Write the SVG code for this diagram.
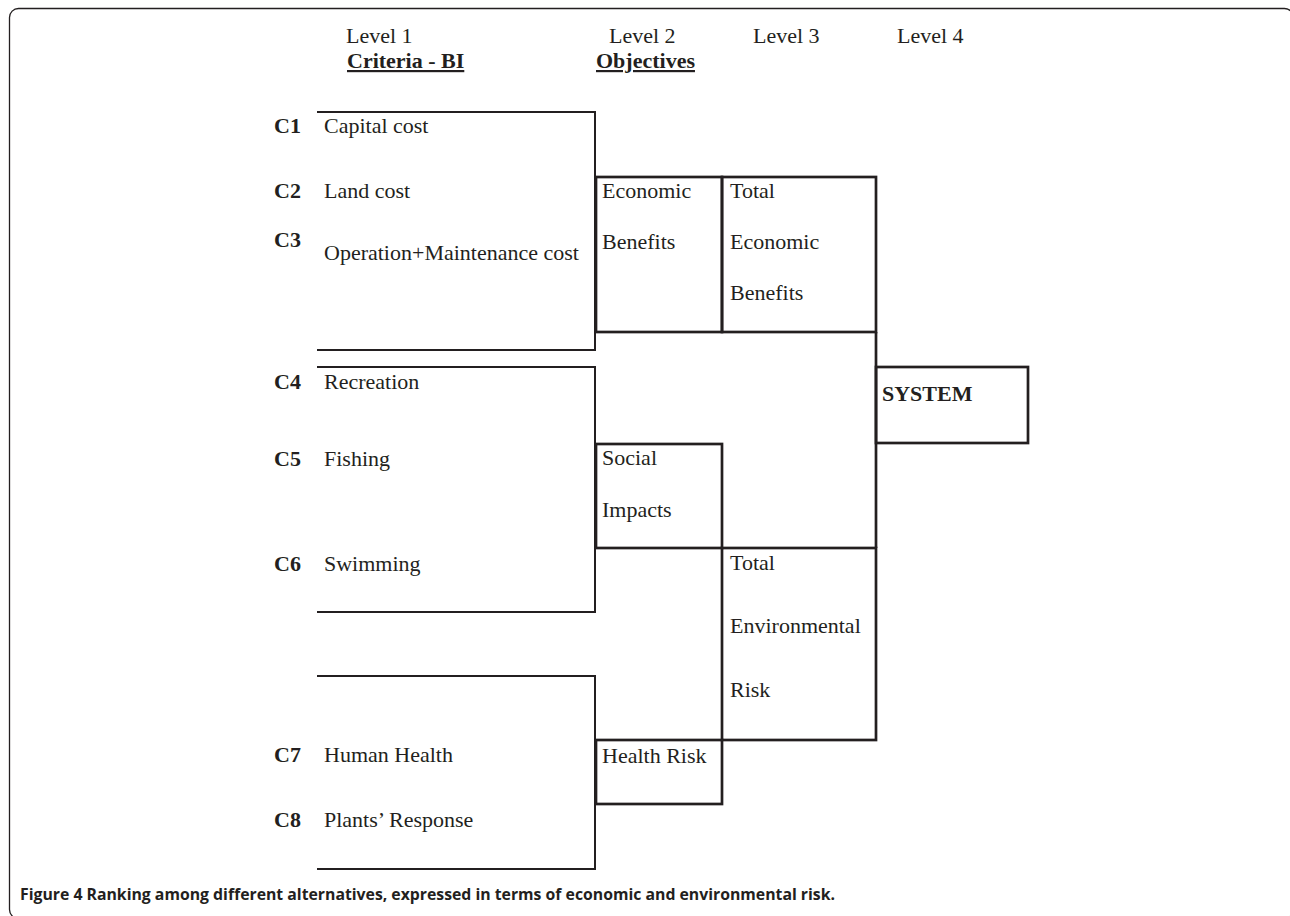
<svg xmlns="http://www.w3.org/2000/svg" width="1290" height="916" viewBox="0 0 1290 916">
<style>
  .t { font-family: "Liberation Serif", "Times New Roman", serif; font-size: 22px; fill: #231f20; }
  .b { font-weight: bold; }
  .u { text-decoration: underline; }
  .box { fill: none; stroke: #231f20; stroke-width: 2.7; }
  .br { fill: none; stroke: #231f20; stroke-width: 2; }
  .cap { font-family: "Open Sans", "Noto Sans", "Liberation Sans", sans-serif; font-size: 16px; font-weight: 700; fill: #231f20; }
</style>
<rect width="1290" height="916" fill="#ffffff"/>
<rect id="frame" x="9.5" y="8.5" width="1284" height="910" rx="9" ry="9" fill="none" stroke="#231f20" stroke-width="1.3"/>

<g id="header">
  <text class="t" x="346" y="43">Level 1</text>
  <text class="t b u" x="347" y="68">Criteria - BI</text>
  <text class="t" x="609" y="43">Level 2</text>
  <text class="t b u" x="596" y="68">Objectives</text>
  <text class="t" x="753" y="43">Level 3</text>
  <text class="t" x="897" y="43">Level 4</text>
</g>

<g id="connectors">
  <path class="br" d="M317 112 H595 V350 H317"/>
  <path class="br" d="M317 367 H595 V612 H317"/>
  <path class="br" d="M317 676 H595 V869 H317"/>
  <path class="box" d="M876 332 V548"/>
</g>

<g id="criteria-economic">
  <text class="t b" x="274" y="133">C1</text>
  <text class="t" x="324" y="133">Capital cost</text>
  <text class="t b" x="274" y="198">C2</text>
  <text class="t" x="324" y="198">Land cost</text>
  <text class="t b" x="274" y="247">C3</text>
  <text class="t" x="324" y="260">Operation+Maintenance cost</text>
</g>

<g id="criteria-social">
  <text class="t b" x="274" y="389">C4</text>
  <text class="t" x="324" y="389">Recreation</text>
  <text class="t b" x="274" y="466">C5</text>
  <text class="t" x="324" y="466">Fishing</text>
  <text class="t b" x="274" y="571">C6</text>
  <text class="t" x="324" y="571">Swimming</text>
</g>

<g id="criteria-health">
  <text class="t b" x="274" y="762">C7</text>
  <text class="t" x="324" y="762">Human Health</text>
  <text class="t b" x="274" y="827">C8</text>
  <text class="t" x="324" y="827">Plants’ Response</text>
</g>

<g id="economic-benefits">
  <rect class="box" x="596" y="177" width="126" height="155"/>
  <text class="t" x="602" y="198">Economic</text>
  <text class="t" x="602" y="249">Benefits</text>
</g>

<g id="total-economic-benefits">
  <rect class="box" x="722" y="177" width="154" height="155"/>
  <text class="t" x="730" y="198">Total</text>
  <text class="t" x="730" y="249">Economic</text>
  <text class="t" x="730" y="300">Benefits</text>
</g>

<g id="system">
  <rect class="box" x="876" y="367" width="152" height="76"/>
  <text class="t b" x="882" y="401">SYSTEM</text>
</g>

<g id="social-impacts">
  <rect class="box" x="596" y="444" width="126" height="104"/>
  <text class="t" x="602" y="465">Social</text>
  <text class="t" x="602" y="517">Impacts</text>
</g>

<g id="total-environmental-risk">
  <rect class="box" x="722" y="548" width="154" height="192"/>
  <text class="t" x="730" y="570">Total</text>
  <text class="t" x="730" y="633">Environmental</text>
  <text class="t" x="730" y="697">Risk</text>
</g>

<g id="health-risk">
  <rect class="box" x="596" y="740" width="126" height="64"/>
  <text class="t" x="602" y="763">Health Risk</text>
</g>

<g id="caption">
  <text class="cap" x="20" y="900" textLength="815" lengthAdjust="spacingAndGlyphs">Figure 4 Ranking among different alternatives, expressed in terms of economic and environmental risk.</text>
</g>
</svg>
